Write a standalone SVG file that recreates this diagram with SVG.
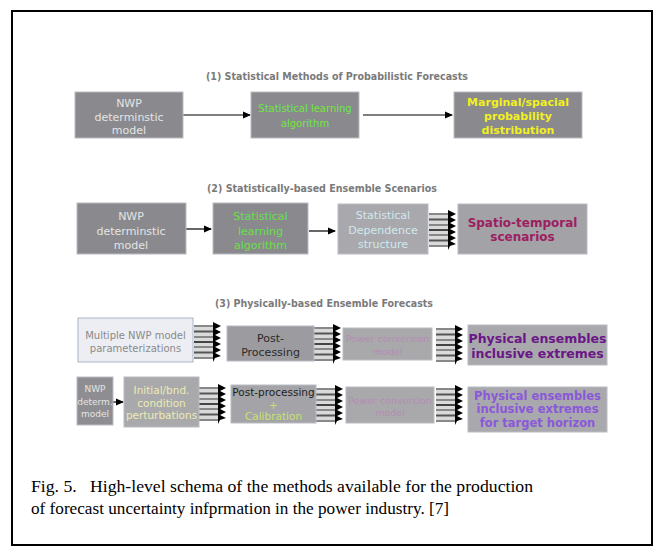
<svg xmlns="http://www.w3.org/2000/svg" xmlns:xlink="http://www.w3.org/1999/xlink" width="665" height="556" viewBox="0 0 665 556">
<style>
.t{font-family:"DejaVu Sans",Verdana,sans-serif;text-anchor:middle}
.title{font-family:"DejaVu Sans",Verdana,sans-serif;font-weight:bold;font-size:10.5px;fill:#7a7a7a}
.b{font-weight:bold}
.cap{font-family:"Liberation Serif","Times New Roman",serif;font-size:17px;fill:#000}
.box{stroke:#b8bcc4;stroke-width:1}
.ln{stroke:#000;stroke-width:1.2;fill:none}
</style>
<defs>
<marker id="ah" markerWidth="8" markerHeight="8" refX="7" refY="4" orient="auto" markerUnits="userSpaceOnUse">
<path d="M0,0.5 L8,4 L0,7.5 Z" fill="#000"/>
</marker>
<g id="bundle">
<rect x="0" y="0" width="20" height="34" fill="#dadada"/>
<line x1="0" y1="1" x2="20" y2="1" stroke="#888" stroke-width="2"/>
<line x1="0" y1="6.5" x2="20" y2="6.5" stroke="#555" stroke-width="2"/>
<line x1="0" y1="12" x2="20" y2="12" stroke="#888" stroke-width="2"/>
<line x1="0" y1="17" x2="20" y2="17" stroke="#444" stroke-width="2"/>
<line x1="0" y1="22" x2="20" y2="22" stroke="#888" stroke-width="2"/>
<line x1="0" y1="27.5" x2="20" y2="27.5" stroke="#555" stroke-width="2"/>
<line x1="0" y1="33" x2="20" y2="33" stroke="#888" stroke-width="2"/>
<path d="M19,-3 L27,1 L21,4 L27,7 L21,10 L27,13 L21,16 L27,19 L21,22 L27,25 L21,28 L27,31 L21,33 L19,37 Z" fill="#000"/>
</g>
</defs>
<rect x="0" y="0" width="665" height="556" fill="#fff"/>
<rect x="12" y="11" width="640" height="534" fill="#fff" stroke="#000" stroke-width="2"/>

<text class="title" x="337" y="80" text-anchor="middle" textLength="262" lengthAdjust="spacingAndGlyphs">(1) Statistical Methods of Probabilistic Forecasts</text>
<text class="title" x="322" y="192" text-anchor="middle" textLength="230" lengthAdjust="spacingAndGlyphs">(2) Statistically-based Ensemble Scenarios</text>
<text class="title" x="324" y="307" text-anchor="middle" textLength="218" lengthAdjust="spacingAndGlyphs">(3) Physically-based Ensemble Forecasts</text>

<g id="connectors">
<line class="ln" x1="183" y1="115" x2="250" y2="115" marker-end="url(#ah)"/>
<line class="ln" x1="363" y1="115" x2="452" y2="115" stroke="#aaa" marker-end="url(#ah)"/>
<line class="ln" x1="186" y1="229" x2="211" y2="229" stroke="#aaa" marker-end="url(#ah)"/>
<line class="ln" x1="309" y1="231" x2="335" y2="231" marker-end="url(#ah)"/>
<line class="ln" x1="113" y1="402" x2="123" y2="402" marker-end="url(#ah)"/>
<use xlink:href="#bundle" x="429" y="213"/>
<use xlink:href="#bundle" x="194" y="325"/>
<use xlink:href="#bundle" x="314" y="327"/>
<use xlink:href="#bundle" x="436" y="328"/>
<use xlink:href="#bundle" x="199" y="387"/>
<use xlink:href="#bundle" x="316" y="388"/>
<use xlink:href="#bundle" x="436" y="388"/>
</g>

<g id="r1-nwp">
<rect class="box" x="75" y="92" width="108" height="46" fill="#8a8a8e"/>
<text class="t" font-size="11" fill="#e4e4e4"><tspan x="129" y="107">NWP</tspan><tspan x="129" y="121">determinstic</tspan><tspan x="129" y="134">model</tspan></text>
</g>
<g id="r1-stat">
<rect class="box" x="251" y="92" width="108" height="46" fill="#8a8a8e"/>
<text class="t" font-size="10" fill="#6ee83c"><tspan x="305" y="112">Statistical learning</tspan><tspan x="305" y="127">algorithm</tspan></text>
</g>
<g id="r1-marg">
<rect class="box" x="454" y="92" width="128" height="46" fill="#8a8a8e"/>
<text class="t b" font-size="11" fill="#f2f020"><tspan x="518" y="106">Marginal/spacial</tspan><tspan x="518" y="120">probability</tspan><tspan x="518" y="134">distribution</tspan></text>
</g>

<g id="r2-nwp">
<rect class="box" x="77" y="203" width="109" height="51" fill="#8a8a8e"/>
<text class="t" font-size="11" fill="#e4e4e4"><tspan x="131" y="220">NWP</tspan><tspan x="131" y="235">determinstic</tspan><tspan x="131" y="249">model</tspan></text>
</g>
<g id="r2-stat">
<rect class="box" x="213" y="203" width="95" height="51" fill="#8a8a8e"/>
<text class="t" font-size="11" fill="#66e04a"><tspan x="260.5" y="220">Statistical</tspan><tspan x="260.5" y="235">learning</tspan><tspan x="260.5" y="249">algorithm</tspan></text>
</g>
<g id="r2-dep">
<rect class="box" x="338" y="204" width="90" height="50" fill="#a9a9ad"/>
<text class="t" font-size="11" fill="#cfe8ee"><tspan x="383" y="219">Statistical</tspan><tspan x="383" y="234">Dependence</tspan><tspan x="383" y="248">structure</tspan></text>
</g>
<g id="r2-spatio">
<rect class="box" x="458" y="204" width="129" height="50" fill="#a3a3a7"/>
<text class="t b" font-size="12" fill="#9c2060"><tspan x="522.5" y="227">Spatio-temporal</tspan><tspan x="522.5" y="241">scenarios</tspan></text>
</g>

<g id="r3a-multi">
<rect x="78" y="318" width="115" height="44" fill="#eceef3" stroke="#aab4c8" stroke-width="1"/>
<text class="t" font-size="10" fill="#8a8a8a"><tspan x="135.5" y="339">Multiple NWP model</tspan><tspan x="135.5" y="352">parameterizations</tspan></text>
</g>
<g id="r3a-post">
<rect class="box" x="227" y="326" width="87" height="35" fill="#9c9ca0"/>
<text class="t" font-size="11" fill="#2a2a2a"><tspan x="270.5" y="342">Post-</tspan><tspan x="270.5" y="356">Processing</tspan></text>
</g>
<g id="r3a-power">
<rect class="box" x="343" y="328" width="89" height="32" fill="#a9a9ab"/>
<text class="t" font-size="9.5" fill="#b48cb4"><tspan x="387.5" y="342">Power conversion</tspan><tspan x="387.5" y="355">model</tspan></text>
</g>
<g id="r3a-phys">
<rect class="box" x="468" y="325" width="139" height="40" fill="#a9a9ad"/>
<text class="t b" font-size="12.5" fill="#6a1686"><tspan x="537.5" y="343">Physical ensembles</tspan><tspan x="537.5" y="358">inclusive extremes</tspan></text>
</g>

<g id="r3b-nwp">
<rect class="box" x="77" y="377" width="36" height="48" fill="#8e8e92"/>
<text class="t" font-size="9" fill="#e4e4e4"><tspan x="95" y="392">NWP</tspan><tspan x="95" y="405">determ.</tspan><tspan x="95" y="417">model</tspan></text>
</g>
<g id="r3b-init">
<rect class="box" x="124" y="377" width="75" height="50" fill="#a9a9ab"/>
<text class="t" font-size="10.5" fill="#ecebb4"><tspan x="161.5" y="394">Initial/bnd.</tspan><tspan x="161.5" y="407">condition</tspan><tspan x="161.5" y="419">perturbations</tspan></text>
</g>
<g id="r3b-post">
<rect class="box" x="231" y="385" width="85" height="38" fill="#a4a4a8"/>
<text class="t" font-size="10.5" fill="#1e1e1e"><tspan x="273.5" y="396">Post-processing</tspan></text>
<text class="t" font-size="10.5" fill="#c8e070"><tspan x="273.5" y="409">+</tspan><tspan x="273.5" y="420">Calibration</tspan></text>
</g>
<g id="r3b-power">
<rect class="box" x="346" y="387" width="88" height="36" fill="#a9a9ab"/>
<text class="t" font-size="9.5" fill="#b48cb4"><tspan x="390" y="404">Power conversion</tspan><tspan x="390" y="416">model</tspan></text>
</g>
<g id="r3b-phys">
<rect class="box" x="468" y="387" width="139" height="45" fill="#a9a9ad"/>
<text class="t b" font-size="11.5" fill="#8a58d8"><tspan x="537.5" y="400">Physical ensembles</tspan><tspan x="537.5" y="413">inclusive extremes</tspan><tspan x="537.5" y="427">for target horizon</tspan></text>
</g>

<text class="cap" x="31" y="492" textLength="502" lengthAdjust="spacingAndGlyphs" xml:space="preserve">Fig. 5.   High-level schema of the methods available for the production</text>
<text class="cap" x="31" y="514" textLength="418" lengthAdjust="spacingAndGlyphs">of forecast uncertainty infprmation in the power industry. [7]</text>
</svg>
